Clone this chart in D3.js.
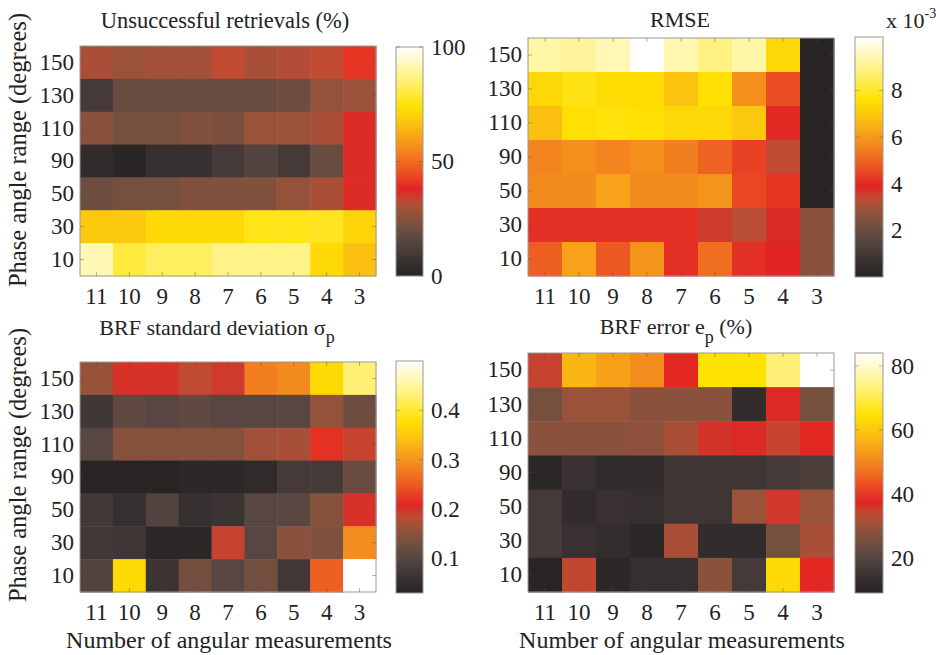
<!DOCTYPE html>
<html><head><meta charset="utf-8">
<script src="https://cdn.jsdelivr.net/npm/d3@7"></script>
<style>body{margin:0;background:#fff}svg{display:block}</style>
</head><body><svg id="c" width="936" height="655" font-family="Liberation Serif"></svg>
<script>
const cols = ["11","10","9","8","7","6","5","4","3"];
const rows = ["150","130","110","90","50","30","10"];

const unsuccessful = [
  [30,28,29,29,33,30,31,33,41],
  [10,19,19,19,19,19,20,27,28],
  [25,22,22,24,23,28,28,30,37],
  [4,1,6,6,10,14,10,19,37],
  [20,22,22,24,24,24,27,30,37],
  [68,68,72,72,72,76,76,77,71],
  [92,80,83,83,87,87,87,72,66]
];
const rmse = [
  [9.3,9.2,9.5,10.3,9.4,8.9,9.3,7.4,0.05],
  [7.4,7.8,7.5,7.5,6.9,7.6,5.8,4.6,0.05],
  [6.8,7.6,7.7,7.6,7.4,7.4,7.0,4.0,0.05],
  [5.6,5.8,5.6,5.8,5.5,5.0,4.4,3.4,0.05],
  [5.7,5.7,6.2,5.7,5.7,5.9,4.5,4.2,0.05],
  [4.1,4.1,4.1,4.1,4.1,3.6,3.3,3.8,2.6],
  [4.9,6.2,4.8,5.9,4.1,5.2,4.1,3.9,2.6]
];
const sigma = [
  [0.16,0.20,0.20,0.185,0.195,0.28,0.29,0.37,0.43],
  [0.072,0.11,0.10,0.11,0.10,0.10,0.10,0.157,0.125],
  [0.10,0.145,0.145,0.145,0.145,0.166,0.17,0.218,0.19],
  [0.03,0.03,0.03,0.04,0.04,0.045,0.078,0.078,0.12],
  [0.075,0.055,0.095,0.055,0.065,0.10,0.105,0.145,0.20],
  [0.075,0.07,0.04,0.04,0.19,0.10,0.15,0.14,0.293],
  [0.095,0.37,0.065,0.13,0.10,0.13,0.075,0.255,0.50]
];
const brfError = [
  [34.5,57,54,51,38,64.5,64.5,73,84],
  [25.5,30,30,28,28,28,12,37,25.5],
  [28,28,28,28.5,31.5,36,37,34.5,38],
  [10,14,12,12,15,15,15,16.5,18],
  [16.5,12,14,13,15,15,30,35.5,30],
  [16.5,14,12.5,10.5,31.5,12,12,25.5,31.5],
  [9,34,10.5,13,13,28,16.5,63,38]
];
const ticks1 = [0,50,100], ticks2 = [2,4,6,8], ticks3 = [0.1,0.2,0.3,0.4], ticks4 = [20,40,60,80];

const FONT = '"Liberation Serif", "Times New Roman", serif';

// colormap (dark grey -> grey-brown -> rust -> red -> orange -> yellow -> white)
const cmStops = [
  [0.00,"#282424"],[0.07,"#3a3232"],[0.15,"#574642"],[0.22,"#76503f"],
  [0.28,"#9a523a"],[0.33,"#c04a32"],[0.38,"#e22424"],[0.46,"#ec5522"],
  [0.55,"#f3881e"],[0.65,"#fabb12"],[0.74,"#ffe102"],[0.86,"#fff27e"],[1.00,"#ffffff"]
];
const cmap = d3.scaleLinear().domain(cmStops.map(d=>d[0])).range(cmStops.map(d=>d[1])).interpolate(d3.interpolateRgb).clamp(true);

const panels = [
  {data:unsuccessful, dom:[0,100], ticks:ticks1, fmt:d3.format("d"), h:[80,376,46,276], cb:[396,423,47,276], ylab:true, xlab:false},
  {data:rmse, dom:[0,10.3], ticks:ticks2, fmt:d3.format("d"), h:[528,834,38,276], cb:[855,883,37,277], ylab:false, xlab:false},
  {data:sigma, dom:[0.03,0.5], ticks:ticks3, fmt:d3.format(".1f"), h:[80,376,362,592], cb:[396,423,361,593], ylab:true, xlab:true},
  {data:brfError, dom:[9,84], ticks:ticks4, fmt:d3.format("d"), h:[528,834,353,592], cb:[855,883,353,593], ylab:false, xlab:true}
];

const svg = d3.select("#c");
const defs = svg.append("defs");
const grad = defs.append("linearGradient").attr("id","cmg").attr("x1",0).attr("y1",1).attr("x2",0).attr("y2",0);
d3.range(0,1.0001,0.02).forEach(t=>grad.append("stop").attr("offset",t).attr("stop-color",cmap(t)));

panels.forEach((p,i)=>{
  const [x0,x1,y0,y1] = p.h;
  const x = d3.scaleBand().domain(cols).range([x0,x1]);
  const y = d3.scaleBand().domain(rows).range([y0,y1]);
  const norm = d3.scaleLinear().domain(p.dom).range([0,1]).clamp(true);
  const g = svg.append("g");
  const cells = [];
  p.data.forEach((r,ri)=>r.forEach((v,ci)=>cells.push({r:rows[ri],c:cols[ci],v})));
  g.selectAll("rect.cell").data(cells).join("rect").attr("class","cell")
    .attr("x",d=>x(d.c)).attr("y",d=>y(d.r)).attr("width",x.bandwidth()+0.5).attr("height",y.bandwidth()+0.5)
    .attr("fill",d=>cmap(norm(d.v)));
  g.append("rect").attr("x",x0).attr("y",y0).attr("width",x1-x0).attr("height",y1-y0)
    .attr("fill","none").attr("stroke","#9a9a9a").attr("stroke-width",1);
  const tk = g.append("g").attr("stroke","#555").attr("stroke-opacity",0.45).attr("stroke-width",1);
  cols.forEach(c=>{const cx=x(c)+x.bandwidth()/2;
    tk.append("line").attr("x1",cx).attr("x2",cx).attr("y1",y1).attr("y2",y1-4);
    tk.append("line").attr("x1",cx).attr("x2",cx).attr("y1",y0).attr("y2",y0+4);});
  rows.forEach(r=>{const cy=y(r)+y.bandwidth()/2;
    tk.append("line").attr("x1",x0).attr("x2",x0+4).attr("y1",cy).attr("y2",cy);
    tk.append("line").attr("x1",x1).attr("x2",x1-4).attr("y1",cy).attr("y2",cy);});
  const xa = g.append("g").attr("transform",`translate(0,${y1})`).call(d3.axisBottom(x).tickSize(0).tickPadding(7));
  const ya = g.append("g").attr("transform",`translate(${x0},0)`).call(d3.axisLeft(y).tickSize(0).tickPadding(6));
  [xa,ya].forEach(a=>{a.select(".domain").remove();a.attr("font-family",null);a.selectAll("text").attr("font-size",23);});
  xa.selectAll("text").attr("dy","0.9em");
  const [c0,c1,cy0,cy1] = p.cb;
  g.append("rect").attr("x",c0).attr("y",cy0).attr("width",c1-c0).attr("height",cy1-cy0)
    .attr("fill","url(#cmg)").attr("stroke","#9a9a9a").attr("stroke-width",1);
  const cs = d3.scaleLinear().domain(p.dom).range([cy1,cy0]);
  const ca = g.append("g").attr("transform",`translate(${c1},0)`).call(d3.axisRight(cs).tickValues(p.ticks).tickFormat(p.fmt).tickSize(0).tickPadding(8));
  ca.select(".domain").remove();
  ca.attr("font-family",null);
  ca.selectAll("text").attr("font-size",23);
  const ctk = g.append("g").attr("stroke","#555").attr("stroke-opacity",0.4);
  p.ticks.forEach(t=>{
    ctk.append("line").attr("x1",c0).attr("x2",c0+4).attr("y1",cs(t)).attr("y2",cs(t));
    ctk.append("line").attr("x1",c1).attr("x2",c1-4).attr("y1",cs(t)).attr("y2",cs(t));
  });
  if(p.ylab){
    svg.append("text").attr("transform",`translate(26,${i===0?150:465}) rotate(-90)`)
      .attr("text-anchor","middle").attr("font-size",24.5).text("Phase angle range (degrees)");
  }
  if(p.xlab){
    svg.append("text").attr("x",(x0+x1)/2+1).attr("y",648).attr("text-anchor","middle").attr("font-size",24)
      .text("Number of angular measurements");
  }
});

svg.append("text").attr("x",225).attr("y",28).attr("text-anchor","middle").attr("font-size",22.5).text("Unsuccessful retrievals (%)");
svg.append("text").attr("x",680).attr("y",27).attr("text-anchor","middle").attr("font-size",22).text("RMSE");
const t3 = svg.append("text").attr("x",217).attr("y",335).attr("text-anchor","middle").attr("font-size",22);
t3.append("tspan").text("BRF standard deviation σ");
t3.append("tspan").attr("font-size",18).attr("dy",8).text("p");
const t4 = svg.append("text").attr("x",676).attr("y",334).attr("text-anchor","middle").attr("font-size",22);
t4.append("tspan").text("BRF error e");
t4.append("tspan").attr("font-size",18).attr("dy",9).text("p");
t4.append("tspan").attr("dy",-9).text(" (%)");
const mult = svg.append("text").attr("x",886).attr("y",28).attr("font-size",22);
mult.append("tspan").text("x 10");
mult.append("tspan").attr("font-size",14).attr("dy",-10).text("-3");

svg.selectAll("text").attr("font-family","Liberation Serif").style("font-family",FONT).style("fill","#222");
</script></body></html>
